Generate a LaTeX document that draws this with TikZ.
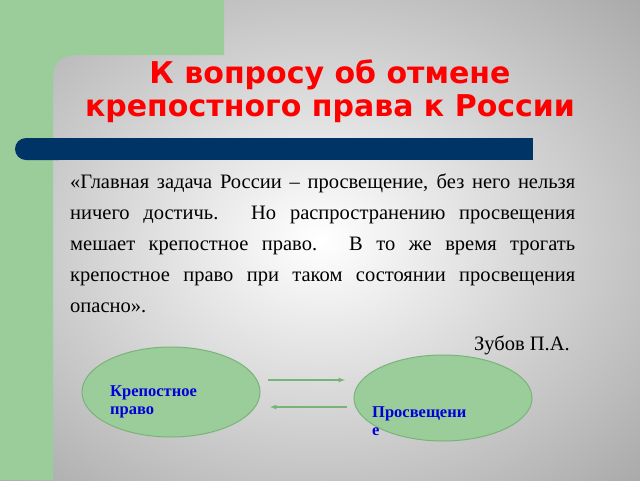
\documentclass[tikz,border=0pt]{standalone}
\usepackage{fontspec}
\usetikzlibrary{shapes.geometric}
\setmainfont{Liberation Serif}
\newfontfamily\titlefont{DejaVu Sans}
\begin{document}
\begin{tikzpicture}[x=1pt,y=-1pt,
  lbl/.style={text=blue!85!black,font=\bfseries\fontsize{16.5}{18}\selectfont,align=left,anchor=north west,inner sep=0},
  arr/.style={draw={rgb,255:red,120;green,180;blue,120},line width=1.2pt,-latex}]
\definecolor{gfill}{RGB}{155,205,155}
\definecolor{gedge}{RGB}{120,180,120}
\definecolor{navy}{RGB}{0,51,102}
\useasboundingbox (0,0) rectangle (640,480);
\fill[gray!70] (0,0) rectangle (640,480);
\shade[inner color=white, outer color=gray!70] (-150,-120) rectangle (790,600);
\fill[gfill] (0,0) -- (224,0) -- (224,55) -- (80,55) .. controls (60,55) and (53,62) .. (53,80) -- (53,480) -- (0,480) -- cycle;
\fill[navy,rounded corners=11pt] (15,138) rectangle (70,160);
\fill[navy] (40,138) rectangle (533,160);
\node (title) at (330,91) [align=center,text={rgb,255:red,255;green,0;blue,0},font=\titlefont\bfseries\fontsize{30}{33}\selectfont] {К вопросу об отмене\\крепостного права к России};
\node (quote) at (70,174) [anchor=north west,inner sep=0,text width=505pt,align=justify,font=\fontsize{20.5}{31}\selectfont] {«Главная задача России – просвещение, без него нельзя ничего достичь. Но распространению просвещения мешает крепостное право. В то же время трогать крепостное право при таком состоянии просвещения опасно».};
\node (author) at (570,350) [anchor=base east,inner sep=0,font=\fontsize{20.5}{22}\selectfont] {Зубов П.А.};
\node (e1) at (171,392) [ellipse,draw=gedge,fill=gfill,line width=1pt,minimum width=178pt,minimum height=90pt] {};
\node (e2) at (443,398) [ellipse,draw=gedge,fill=gfill,line width=1pt,minimum width=178pt,minimum height=86pt] {};
\node (t1) at (110,385) [lbl] {Крепостное\\право};
\node (t2) at (372,406) [lbl] {Просвещени\\е};
\coordinate (a1s) at (268,380); \coordinate (a1e) at (345,380);
\coordinate (a2s) at (347,407); \coordinate (a2e) at (270,407);
\draw[arr] (a1s) -- (a1e);
\draw[arr] (a2s) -- (a2e);
\end{tikzpicture}
\end{document}
